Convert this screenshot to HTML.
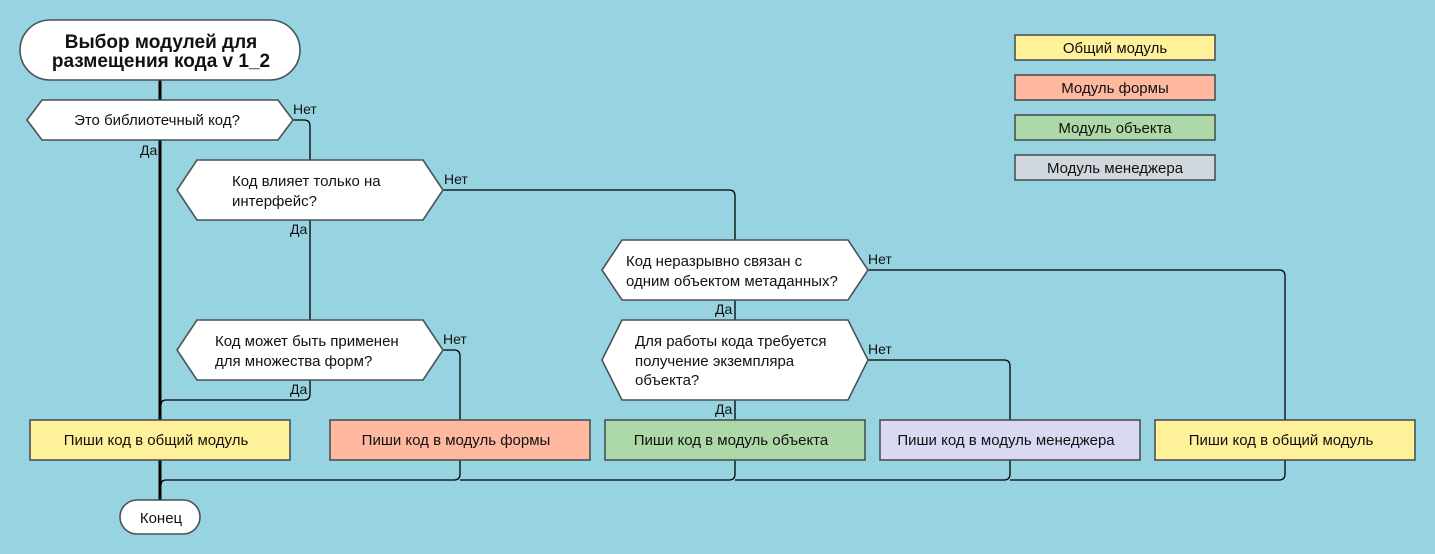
<!DOCTYPE html>
<html><head><meta charset="utf-8"><style>
html,body{margin:0;padding:0;background:#97d3e1;}
svg{display:block;}
text{font-family:"Liberation Sans",sans-serif;fill:#111;}
</style></head><body>
<svg width="1435" height="554" viewBox="0 0 1435 554" xmlns="http://www.w3.org/2000/svg">
<rect width="1435" height="554" fill="#97d3e1"/>
<g fill="none" stroke="#000" stroke-width="1.3">
<path d="M293 120 H304 Q310 120 310 126 V160"/>
<path d="M443 190 H729 Q735 190 735 196 V240"/>
<path d="M310 220 V320"/>
<path d="M443 350 H454 Q460 350 460 356 V420"/>
<path d="M310 380 V394 Q310 400 304 400 H166 Q161 400 161 405"/>
<path d="M868 270 H1279 Q1285 270 1285 276 V420"/>
<path d="M735 300 V320"/>
<path d="M868 360 H1004 Q1010 360 1010 366 V420"/>
<path d="M735 400 V420"/>
<path d="M460 460 V474 Q460 480 454 480 H166 Q161 480 161 485"/>
<path d="M735 460 V474 Q735 480 729 480 H460"/>
<path d="M1010 460 V474 Q1010 480 1004 480 H735"/>
<path d="M1285 460 V474 Q1285 480 1279 480 H1010"/>
</g>
<line x1="160" y1="80" x2="160" y2="500" stroke="#000" stroke-width="3"/>

<g stroke="#4a5256" stroke-width="1.6">
<rect x="20" y="20" width="280" height="60" rx="30" fill="#fff"/>
<polygon points="27,120 42,100 278,100 293,120 278,140 42,140" fill="#fff"/>
<polygon points="177,190 197,160 423,160 443,190 423,220 197,220" fill="#fff"/>
<polygon points="177,350 197,320 423,320 443,350 423,380 197,380" fill="#fff"/>
<polygon points="602,270 622,240 848,240 868,270 848,300 622,300" fill="#fff"/>
<polygon points="602,360 622,320 848,320 868,360 848,400 622,400" fill="#fff"/>
<rect x="30" y="420" width="260" height="40" fill="#fff199"/>
<rect x="330" y="420" width="260" height="40" fill="#ffb8a0"/>
<rect x="605" y="420" width="260" height="40" fill="#add8a8"/>
<rect x="880" y="420" width="260" height="40" fill="#d9d9f3"/>
<rect x="1155" y="420" width="260" height="40" fill="#fff199"/>
<rect x="120" y="500" width="80" height="34" rx="17" fill="#fff"/>
<rect x="1015" y="35" width="200" height="25" fill="#fff199"/>
<rect x="1015" y="75" width="200" height="25" fill="#ffb8a0"/>
<rect x="1015" y="115" width="200" height="25" fill="#add8a8"/>
<rect x="1015" y="155" width="200" height="25" fill="#d0d8de"/>
</g>

<g font-size="19" font-weight="bold" text-anchor="middle">
<text x="161" y="48">Выбор модулей для</text>
<text x="161" y="67">размещения кода v 1_2</text>
</g>
<g font-size="15">
<text x="157" y="125" text-anchor="middle">Это библиотечный код?</text>
<text x="232" y="186">Код влияет только на</text>
<text x="232" y="206">интерфейс?</text>
<text x="215" y="346">Код может быть применен</text>
<text x="215" y="366">для множества форм?</text>
<text x="626" y="266">Код неразрывно связан с</text>
<text x="626" y="286">одним объектом метаданных?</text>
<text x="635" y="346">Для работы кода требуется</text>
<text x="635" y="366">получение экземпляра</text>
<text x="635" y="385">объекта?</text>
<g text-anchor="middle">
<text x="156" y="445">Пиши код в общий модуль</text>
<text x="456" y="445">Пиши код в модуль формы</text>
<text x="731" y="445">Пиши код в модуль объекта</text>
<text x="1006" y="445">Пиши код в модуль менеджера</text>
<text x="1281" y="445">Пиши код в общий модуль</text>
<text x="161" y="523">Конец</text>
<text x="1115" y="53">Общий модуль</text>
<text x="1115" y="93">Модуль формы</text>
<text x="1115" y="133">Модуль объекта</text>
<text x="1115" y="173">Модуль менеджера</text>
</g>
</g>
<g font-size="14">
<text x="293" y="114">Нет</text>
<text x="140" y="155">Да</text>
<text x="444" y="184">Нет</text>
<text x="290" y="234">Да</text>
<text x="443" y="344">Нет</text>
<text x="290" y="394">Да</text>
<text x="868" y="264">Нет</text>
<text x="715" y="314">Да</text>
<text x="868" y="354">Нет</text>
<text x="715" y="414">Да</text>
</g>
</svg>
</body></html>
